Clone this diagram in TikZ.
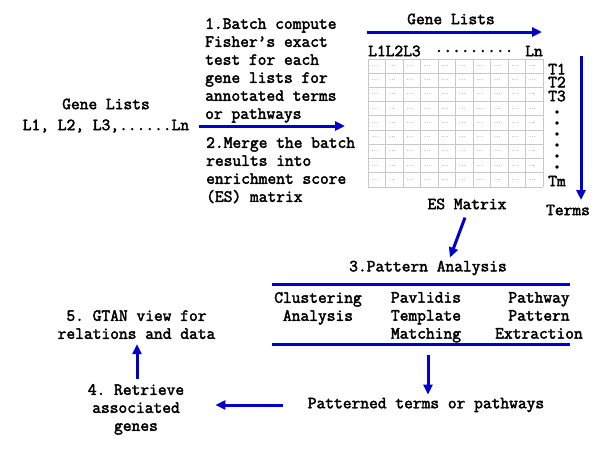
\documentclass[tikz,border=0pt]{standalone}
\usepackage{fontspec}
\setmonofont{Latin Modern Mono}[AutoFakeBold=2.5]
\usetikzlibrary{arrows.meta}
\definecolor{arrowblue}{RGB}{0,0,204}
\definecolor{gridgray}{RGB}{200,200,200}
\definecolor{cellgray}{RGB}{100,100,100}
\tikzset{
  lbl/.style={font=\ttfamily\bfseries\fontsize{17}{18}\selectfont, inner sep=0pt, text=black},
  bigdot/.style={font=\ttfamily\bfseries\fontsize{24}{24}\selectfont, inner sep=0pt, text=black},
  flow/.style={draw=arrowblue, line width=3pt, -{Triangle[length=10pt,width=9pt]}},
  bar/.style={draw=arrowblue, line width=3pt},
  gline/.style={draw=gridgray, line width=0.8pt},
  cell/.style={font=\fontsize{8}{8}\selectfont, text=cellgray, inner sep=0pt},
}
\begin{document}
\begin{tikzpicture}[x=1pt,y=-1pt]
\useasboundingbox (0,0) rectangle (600,450);

% left gene lists
\node[lbl] (gltitle) at (106,104) {Gene Lists};
\node[lbl] (glist) at (106,126) {L1, L2, L3,......Ln};

% step texts
\node[lbl, align=left, anchor=north west] (s1) at (205,18) {1.Batch compute\\Fisher’s exact\\test for each\\gene lists for\\annotated terms\\or pathways};
\node[lbl, align=left, anchor=north west] (s2) at (206,137) {2.Merge the batch\\results into\\enrichment score\\(ES) matrix};

% matrix
\node[inner sep=0pt, minimum width=175pt, minimum height=128pt, anchor=north west] (grid) at (368,59) {};
\foreach \i in {0,...,10} {
  \draw[gline] (368+17.5*\i,59) -- (368+17.5*\i,187);
}
\foreach \j in {0,...,9} {
  \draw[gline] (368,59+14.222*\j) -- (543,59+14.222*\j);
}
\foreach \i in {0,...,9} {
  \foreach \j in {0,...,8} {
    \node[cell] at (368+17.5*\i+7,59+14.222*\j+7) {...};
  }
}
\draw[flow, shorten <=10pt, shorten >=23pt] (glist.east) -- (glist.east -| grid.west);

\node[lbl] (mtitle) at (451,19) {Gene Lists};
\coordinate (ga1) at (367,32);
\coordinate (ga2) at (542,32);
\draw[flow] (ga1) -- (ga2);

\node[lbl, anchor=west] (hl) at (368,51) {L1L2L3};
\node[lbl] (hd) at (474,51) {.........};
\node[lbl, anchor=east] (hn) at (543,51) {Ln};

\node[lbl] (t1) at (557,69) {T1};
\node[lbl] (t2) at (557,82) {T2};
\node[lbl] (t3) at (557,96) {T3};
\foreach \y [count=\k] in {112,123,134,145,156,167} {
  \node[bigdot] (td\k) at (557,\y) {.};
}
\node[lbl] (tm) at (557,181) {Tm};

\coordinate (ta1) at (581,56);
\coordinate (ta2) at (581,200);
\draw[flow] (ta1) -- (ta2);
\node[lbl] (terms) at (568,210) {Terms};
\node[lbl] (esm) at (467,204) {ES Matrix};

% pattern analysis
\node[lbl] (pa) at (428,268) {3.Pattern Analysis};
\draw[flow] ([xshift=-2pt,yshift=-8pt]esm.south) -- ([xshift=22pt,yshift=3pt]pa.north);
\coordinate (b1l) at (272,284);
\coordinate (b1r) at (570,284);
\coordinate (b2l) at (272,344);
\coordinate (b2r) at (570,344);
\draw[bar] (b1l) -- (b1r);
\draw[bar] (b2l) -- (b2r);
\node[lbl, align=center, anchor=north] (c1) at (318,292) {Clustering\\Analysis};
\node[lbl, align=center, anchor=north] (c2) at (426,292) {Pavlidis\\Template\\Matching};
\node[lbl, align=center, anchor=north] (c3) at (539,292) {Pathway\\Pattern\\Extraction};

% bottom flow
\node[lbl] (pt) at (426,405) {Patterned terms or pathways};
\coordinate (da1) at (428,355);
\draw[flow] (da1) -- ([yshift=3pt]pt.north -| da1);
\node[lbl, align=center, anchor=north] (r4) at (136,384) {4. Retrieve\\associated\\genes};
\draw[flow, shorten <=25pt, shorten >=31pt] (pt.west) -- (pt.west -| r4.east);
\node[lbl, align=center, anchor=north] (v5) at (136.5,310) {5. GTAN view for\\relations and data};
\draw[flow] ([xshift=1pt,yshift=5pt]r4.north) -- ([xshift=0.5pt,yshift=-5pt]v5.south);
\end{tikzpicture}
\end{document}
